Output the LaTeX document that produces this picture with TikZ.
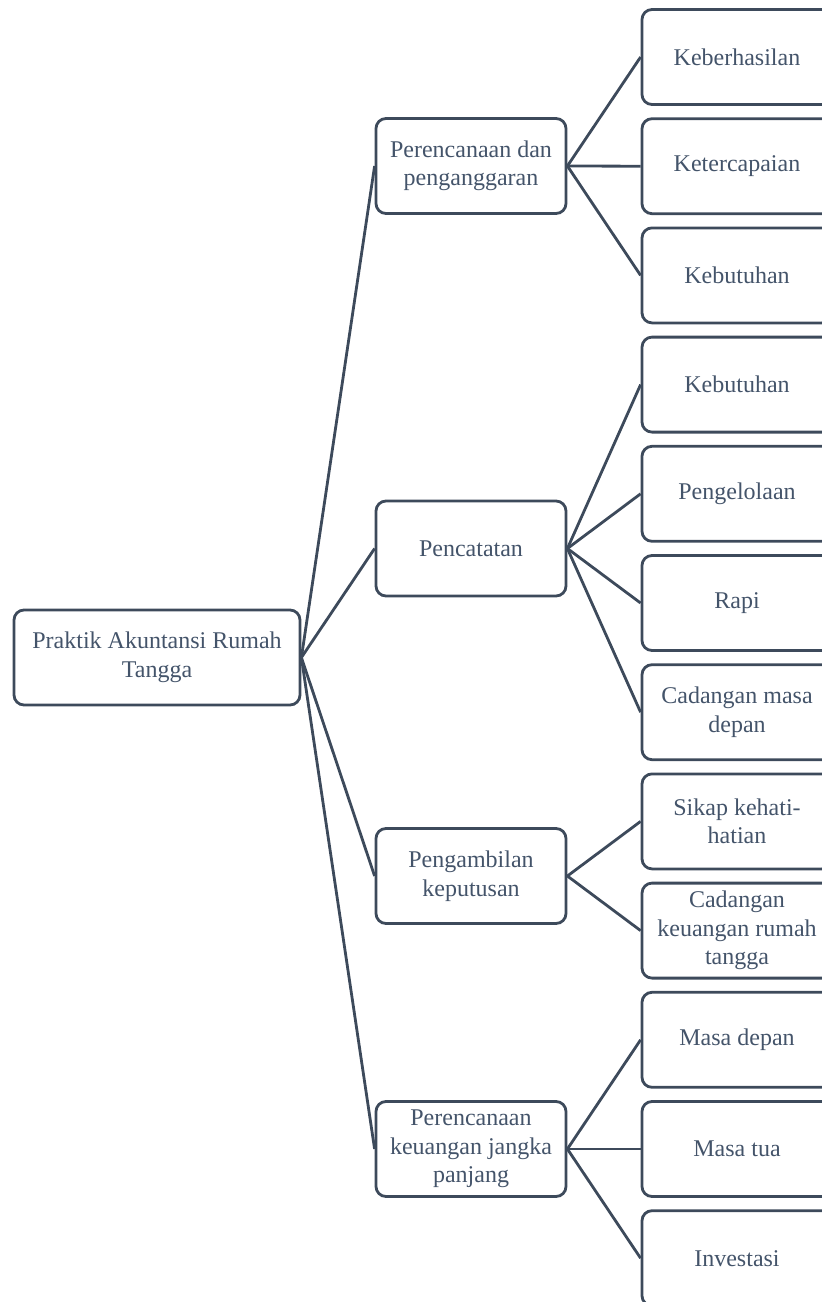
\documentclass[tikz,border=0pt]{standalone}
\usepackage{fontspec}
\setmainfont{Liberation Serif}
\usepackage{tikz}

\definecolor{boxline}{HTML}{3D4A5B}
\definecolor{boxtext}{HTML}{44546A}

\begin{document}
\begin{tikzpicture}[x=1pt, y=-1pt,
    box/.style={rectangle, draw=boxline, line width=2.8pt, rounded corners=10pt,
        minimum height=95pt, minimum width=190pt, align=center, text=boxtext,
        font=\fontsize{24}{28.5}\selectfont, inner sep=2pt},
    link/.style={draw=boxline, line width=2.8pt}]
    \useasboundingbox (0,0) rectangle (822,1302);

    \node at (157,657.5) [box, minimum width=286pt] (Praktik) {Praktik Akuntansi Rumah\\Tangga};

    \node at (471,166) [box] (Perencanaan) {Perencanaan dan\\penganggaran};
    \node at (471,548.5) [box] (Pencatatan) {Pencatatan};
    \node at (471,876) [box] (Pengambilan) {Pengambilan\\keputusan};
    \node at (471,1149) [box] (Jangka) {Perencanaan\\keuangan jangka\\panjang};

    \node at (737,57) [box] (Keberhasilan) {Keberhasilan};
    \node at (737,166.2) [box] (Ketercapaian) {Ketercapaian};
    \node at (737,275.4) [box] (Kebutuhan) {Kebutuhan};
    \node at (737,384.6) [box] (KebutuhanB) {Kebutuhan};
    \node at (737,493.8) [box] (Pengelolaan) {Pengelolaan};
    \node at (737,603) [box] (Rapi) {Rapi};
    \node at (737,712.2) [box] (Cadangan) {Cadangan masa\\depan};
    \node at (737,821.4) [box] (Sikap) {Sikap kehati-\\hatian};
    \node at (737,930.6) [box] (CadanganRT) {Cadangan\\keuangan rumah\\tangga};
    \node at (737,1039.8) [box] (MasaDepan) {Masa depan};
    \node at (737,1149) [box] (MasaTua) {Masa tua};
    \node at (737,1258.2) [box] (Investasi) {Investasi};

    \draw[link] (Praktik.east) -- (Perencanaan.west);
    \draw[link] (Praktik.east) -- (Pencatatan.west);
    \draw[link] (Praktik.east) -- (Pengambilan.west);
    \draw[link] (Praktik.east) -- (Jangka.west);

    \draw[link] (Perencanaan.east) -- (Keberhasilan.west);
    \draw[link] (Perencanaan.east) -- (Ketercapaian.west);
    \draw[link] (Perencanaan.east) -- (Kebutuhan.west);

    \draw[link] (Pencatatan.east) -- (KebutuhanB.west);
    \draw[link] (Pencatatan.east) -- (Pengelolaan.west);
    \draw[link] (Pencatatan.east) -- (Rapi.west);
    \draw[link] (Pencatatan.east) -- (Cadangan.west);

    \draw[link] (Pengambilan.east) -- (Sikap.west);
    \draw[link] (Pengambilan.east) -- (CadanganRT.west);

    \draw[link] (Jangka.east) -- (MasaDepan.west);
    \draw[link] (Jangka.east) -- (MasaTua.west);
    \draw[link] (Jangka.east) -- (Investasi.west);
\end{tikzpicture}
\end{document}
